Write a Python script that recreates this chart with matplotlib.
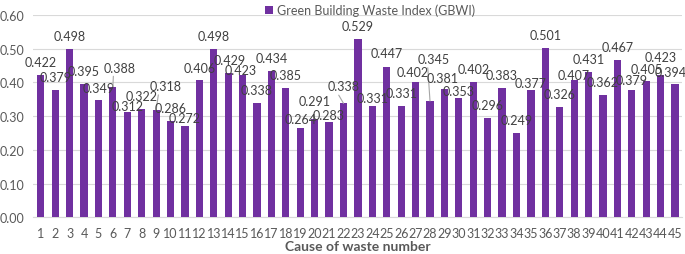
import numpy as np
import matplotlib
matplotlib.use("Agg")
import matplotlib.pyplot as plt

plt.rcParams["font.family"] = ["Lato", "DejaVu Sans"]

# Data
causes = list(range(1, 46))
gbwi = [0.422, 0.379, 0.498, 0.395, 0.349, 0.388, 0.312, 0.322, 0.318, 0.286,
        0.272, 0.406, 0.498, 0.429, 0.423, 0.338, 0.434, 0.385, 0.264, 0.291,
        0.283, 0.338, 0.529, 0.331, 0.447, 0.331, 0.402, 0.345, 0.381, 0.353,
        0.402, 0.296, 0.383, 0.249, 0.377, 0.501, 0.326, 0.407, 0.431, 0.362,
        0.467, 0.379, 0.405, 0.423, 0.394]
yticks = [0.0, 0.1, 0.2, 0.3, 0.4, 0.5, 0.6]

# label offsets (pixels) like the Excel layout
lab_dx = [0, 0, 0, 0, 0, 7, 0, 0, 9, 0, 0, 0, 0, 1, -2, 0, 0, 0, 0, 0, 0, 0, 0,
          0, 0, 0, -3, 4, -2, 0, 0, 0, 0, 0, 0, 0, 0, 0, 0, 0, 0, 0, 0, 0, -4]
lab_dy = [13, 13, 13, 13, 12, 19, 6, 13, 24, 13, 8, 12, 13, 13, 5, 13, 13, 13,
          9, 18, 7, 17, 13, 8, 14, 13, 10, 42, 11, 7, 13, 13, 13, 13, 7, 13, 13,
          5, 13, 13, 13, 10, 12, 18, 12]
leaders = [6, 9, 22, 28]

purple = "#7030A0"
text_col = "#595959"

fig = plt.figure(figsize=(6.85, 2.55), dpi=100)
ax = fig.add_axes([0.048, 0.144, 0.948, 0.793])

ax.bar(causes, gbwi, width=0.5, color=purple, zorder=3,
       label="Green Building Waste Index (GBWI)")

for i, (c, v) in enumerate(zip(causes, gbwi)):
    arrow = None
    if c in leaders:
        arrow = dict(arrowstyle="-", color="#A6A6A6", lw=0.8,
                     shrinkA=0, shrinkB=0, relpos=(0.3, 0.0))
    ax.annotate(f"{v:.3f}", xy=(c, v), xytext=(lab_dx[i], lab_dy[i]),
                textcoords="offset pixels", ha="center", va="center",
                fontsize=9, color="#404040", zorder=4, arrowprops=arrow)

ax.set_xlim(0.45, 45.5)
ax.set_ylim(0, 0.6)
ax.set_yticks(yticks)
ax.set_yticklabels([f"{t:.2f}" for t in yticks])
ax.set_xticks(causes)
ax.tick_params(axis="both", length=0, labelsize=9, colors=text_col)
ax.tick_params(axis="x", pad=7)
ax.tick_params(axis="y", pad=6)
ax.grid(axis="y", color="#D9D9D9", lw=0.8, zorder=0)
for s in ["top", "right", "left"]:
    ax.spines[s].set_visible(False)
ax.spines["bottom"].set_color("#D9D9D9")

ax.set_xlabel("Cause of waste number", fontsize=10, fontweight="bold",
              color=text_col, labelpad=1)

fig.legend(loc="upper center", bbox_to_anchor=(0.54, 1.025), frameon=False,
           fontsize=9, labelcolor=text_col, handlelength=0.7,
           handleheight=0.7, handletextpad=0.3)

fig.savefig("out.png", dpi=100)
